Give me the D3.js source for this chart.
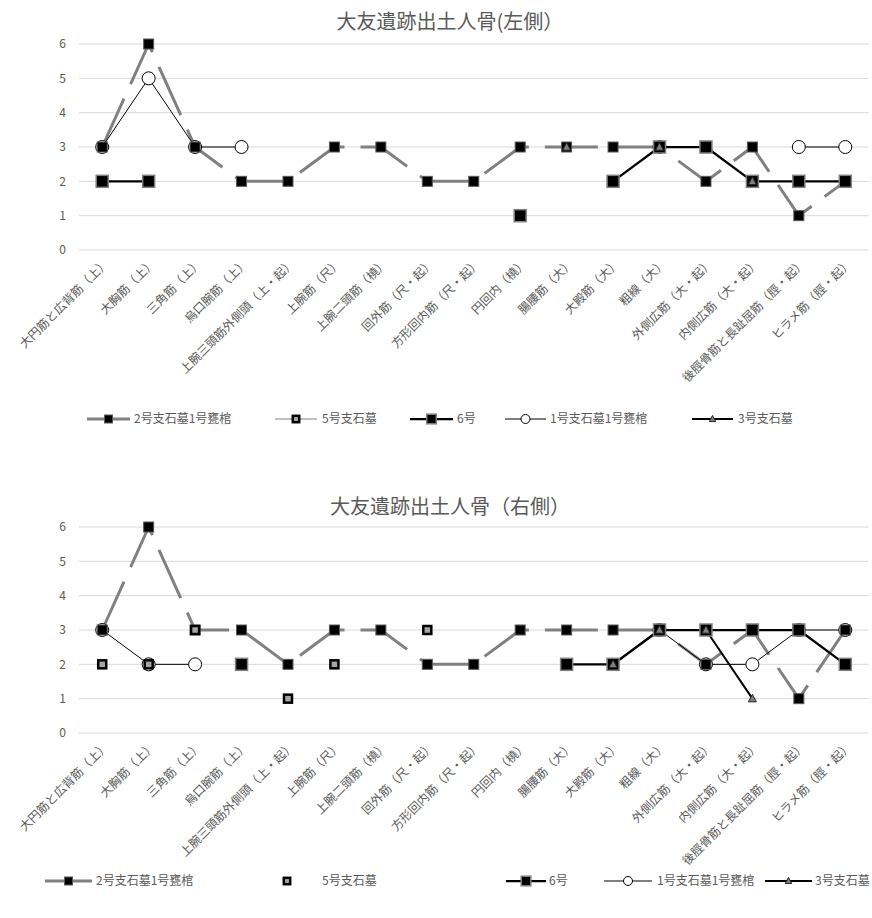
<!DOCTYPE html>
<html>
<head>
<meta charset="utf-8">
<script src="https://cdn.jsdelivr.net/npm/d3@7"></script>
<style>
  html, body { margin: 0; padding: 0; background: #fff; }
  svg { display: block; font-family: "Noto Sans CJK JP", "Noto Sans", sans-serif; }
</style>
</head>
<body>
<svg id="chart" width="872" height="918"></svg>
<script>
// Muscle attachment sites (x categories)
const categories = [
  "大円筋と広背筋（上）", "大胸筋（上）", "三角筋（上）", "烏口腕筋（上）",
  "上腕三頭筋外側頭（上・起）", "上腕筋（尺）", "上腕二頭筋（橈）", "回外筋（尺・起）",
  "方形回内筋（尺・起）", "円回内（橈）", "腸腰筋（大）", "大殿筋（大）", "粗線（大）",
  "外側広筋（大・起）", "内側広筋（大・起）", "後脛骨筋と長趾屈筋（脛・起）", "ヒラメ筋（脛・起）"
];
const yTicks = [0, 1, 2, 3, 4, 5, 6];
const seriesNames = ["2号支石墓1号甕棺", "5号支石墓", "6号", "1号支石墓1号甕棺", "3号支石墓"];

// Left side scores
const left2 = [3, 6, 3, 2, 2, 3, 3, 2, 2, 3, 3, 3, 3, 2, 3, 1, 2];
const left5 = [null, null, null, null, null, null, null, null, null, null, null, null, null, null, null, null, null];
const left6 = [2, 2, null, null, null, null, null, null, null, 1, null, 2, 3, 3, 2, 2, 2];
const left1 = [3, 5, 3, 3, null, null, null, null, null, null, null, null, 3, null, null, 3, 3];
const left3 = [null, null, null, null, null, null, null, null, null, null, 3, null, 3, null, 2, null, null];

// Right side scores
const right2 = [3, 6, 3, 3, 2, 3, 3, 2, 2, 3, 3, 3, 3, 2, 3, 1, 3];
const right5 = [2, 2, 3, null, 1, 2, null, 3, null, null, null, null, null, null, null, null, null];
const right6 = [null, null, null, 2, null, null, null, null, null, null, 2, 2, 3, 3, 3, 3, 2];
const right1 = [3, 2, 2, null, null, null, null, null, null, null, null, null, 3, 2, 2, 3, 3];
const right3 = [null, null, null, null, null, null, null, null, null, null, null, 2, 3, 3, 1, null, null];

const svg = d3.select("#chart");
const textColor = "#595959";

// Per-series drawing styles (index follows seriesNames)
const styles = [
  { line: "#808080", width: 3, dash: "53 16", marker: "sq", size: 10, fill: "#000", stroke: "#595959", sw: 1 },
  { line: "#bfbfbf", width: 2, dash: null, marker: "sq", size: 8, fill: "#a6a6a6", stroke: "#000", sw: 2.5 },
  { line: "#000", width: 2.25, dash: null, marker: "sq", size: 12, fill: "#000", stroke: "#808080", sw: 1.5 },
  { line: "#000", width: 1, dash: null, marker: "circle", size: 13, fill: "#fff", stroke: "#000", sw: 1 },
  { line: "#000", width: 2, dash: null, marker: "tri", size: 8, fill: "#7f7f7f", stroke: "#262626", sw: 1 }
];

function drawMarker(g, type, st, x, y) {
  if (type === "sq") {
    g.append("rect")
      .attr("x", x - st.size / 2).attr("y", y - st.size / 2)
      .attr("width", st.size).attr("height", st.size)
      .attr("fill", st.fill).attr("stroke", st.stroke).attr("stroke-width", st.sw);
  } else if (type === "circle") {
    g.append("circle").attr("cx", x).attr("cy", y).attr("r", st.size / 2)
      .attr("fill", st.fill).attr("stroke", st.stroke).attr("stroke-width", st.sw);
  } else {
    const s = st.size;
    g.append("path")
      .attr("d", `M${x},${y - s * 0.55}L${x + s / 2},${y + s * 0.4}L${x - s / 2},${y + s * 0.4}Z`)
      .attr("fill", st.fill).attr("stroke", st.stroke).attr("stroke-width", st.sw);
  }
}

function drawChart(opt) {
  const g = svg.append("g");
  const x = d3.scalePoint().domain(categories).range([79, 868.5]).padding(0.5);
  const y = d3.scaleLinear().domain([0, 6]).range([opt.bottom, opt.top]);

  // title
  g.append("text").attr("x", 450).attr("y", opt.titleY)
    .attr("text-anchor", "middle").attr("fill", textColor)
    .attr("font-size", 20).text(opt.title);

  // horizontal gridlines
  g.append("g").selectAll("line").data(yTicks).join("line")
    .attr("x1", 79).attr("x2", 868.5)
    .attr("y1", d => y(d)).attr("y2", d => y(d))
    .attr("stroke", "#d9d9d9").attr("stroke-width", 1);

  // y axis labels
  const yAxis = d3.axisLeft(y).tickValues(yTicks).tickSize(0).tickPadding(0).tickFormat(d3.format("d"));
  const ya = g.append("g").attr("transform", "translate(66,0)").call(yAxis);
  ya.select(".domain").remove();
  ya.selectAll("text").attr("fill", textColor).attr("font-size", 12)
    .attr("font-family", "\"Noto Sans CJK JP\", sans-serif");

  // x axis labels, rotated
  const xAxis = d3.axisBottom(x).tickSize(0).tickPadding(0);
  const xa = g.append("g").attr("transform", `translate(0,${opt.bottom})`).call(xAxis);
  xa.select(".domain").remove();
  xa.selectAll("text")
    .attr("fill", textColor).attr("font-size", 12)
    .attr("font-family", "\"Noto Sans CJK JP\", sans-serif")
    .attr("text-anchor", "end")
    .attr("dy", null).attr("y", 0)
    .attr("transform", "translate(7,14) rotate(-45)");

  const line = d3.line().defined(d => d.v != null).x(d => x(d.c)).y(d => y(d.v));
  const rows = opt.data.map(vals => vals.map((v, i) => ({ c: categories[i], v })));

  // lines (series order)
  rows.forEach((r, si) => {
    const st = styles[si];
    if (si === 1 && !opt.line5) return;
    g.append("path").datum(r).attr("d", line)
      .attr("fill", "none").attr("stroke", st.line).attr("stroke-width", st.width)
      .attr("stroke-dasharray", st.dash).attr("stroke-linejoin", "round");
  });

  // markers: circles underneath, then squares, then triangles
  [3, 0, 2, 1, 4].forEach(si => {
    const st = styles[si];
    const mg = g.append("g");
    rows[si].filter(d => d.v != null).forEach(d => drawMarker(mg, st.marker, st, x(d.c), y(d.v)));
  });

  // legend
  const lg = g.append("g");
  opt.legend.forEach((it, si) => {
    const st = styles[si];
    const cy = opt.legendY;
    if (it.line) {
      lg.append("line").attr("x1", it.x1).attr("x2", it.x2).attr("y1", cy).attr("y2", cy)
        .attr("stroke", st.line).attr("stroke-width", st.width);
    }
    drawMarker(lg, st.marker, Object.assign({}, st, { size: st.marker === "circle" ? 9 : st.size * 0.8 }), (it.x1 + it.x2) / 2, cy);
    lg.append("text").attr("x", it.tx).attr("y", cy).attr("dy", "0.36em")
      .attr("fill", textColor).attr("font-size", 12).text(seriesNames[si]);
  });
}

drawChart({
  title: "大友遺跡出土人骨(左側）", titleY: 29, top: 44, bottom: 250,
  data: [left2, left5, left6, left1, left3], line5: true, legendY: 419,
  legend: [
    { x1: 87, x2: 130, tx: 134, line: true },
    { x1: 275, x2: 317, tx: 322, line: true },
    { x1: 410, x2: 453, tx: 457, line: true },
    { x1: 505, x2: 546, tx: 550, line: true },
    { x1: 692, x2: 733, tx: 738, line: true }
  ]
});

drawChart({
  title: "大友遺跡出土人骨（右側）", titleY: 514, top: 527, bottom: 733,
  data: [right2, right5, right6, right1, right3], line5: false, legendY: 881,
  legend: [
    { x1: 45, x2: 92, tx: 96, line: true },
    { x1: 287, x2: 287, tx: 322, line: false },
    { x1: 506, x2: 546, tx: 549, line: true },
    { x1: 604, x2: 652, tx: 657, line: true },
    { x1: 765, x2: 812, tx: 815, line: true }
  ]
});
</script>
</body>
</html>
